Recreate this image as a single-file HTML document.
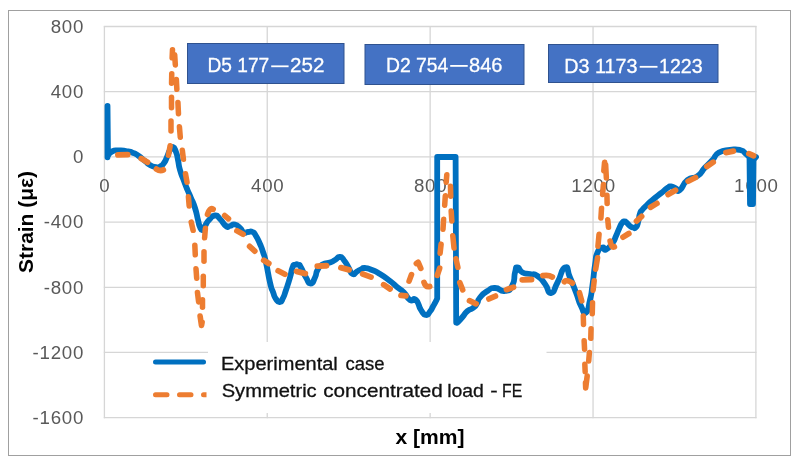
<!DOCTYPE html>
<html><head><meta charset="utf-8"><title>chart</title>
<style>
html,body{margin:0;padding:0;background:#fff;}
body{width:800px;height:466px;overflow:hidden;font-family:"Liberation Sans",sans-serif;}
svg{display:block;}
text{font-family:"Liberation Sans",sans-serif;}
.t{}
</style></head><body>
<svg width="800" height="466" viewBox="0 0 800 466">
<rect x="0" y="0" width="800" height="466" fill="#ffffff"/>
<defs><filter id="nf" x="0" y="0" width="800" height="466" filterUnits="userSpaceOnUse" color-interpolation-filters="sRGB"><feOffset dx="0" dy="0"/></filter></defs>
<g class="t" filter="url(#nf)">
<rect x="8.5" y="10.5" width="782" height="445" fill="#ffffff" stroke="#a0a0a0" stroke-width="1"/>
<g stroke="#d6d6d6" stroke-width="1.3"><line x1="104.4" y1="25.9" x2="104.4" y2="418.25"/><line x1="267.25" y1="25.9" x2="267.25" y2="418.25"/><line x1="430.15" y1="25.9" x2="430.15" y2="418.25"/><line x1="593.05" y1="25.9" x2="593.05" y2="418.25"/><line x1="755.9" y1="25.9" x2="755.9" y2="418.25"/><line x1="103.80000000000001" y1="26.5" x2="756.5" y2="26.5"/><line x1="103.80000000000001" y1="91.7" x2="756.5" y2="91.7"/><line x1="103.80000000000001" y1="156.9" x2="756.5" y2="156.9"/><line x1="103.80000000000001" y1="222.1" x2="756.5" y2="222.1"/><line x1="103.80000000000001" y1="287.3" x2="756.5" y2="287.3"/><line x1="103.80000000000001" y1="352.45" x2="756.5" y2="352.45"/><line x1="103.80000000000001" y1="417.65" x2="756.5" y2="417.65"/></g>
<rect x="208" y="342" width="338.5" height="71" fill="#ffffff"/>
<g font-size="18.7" letter-spacing="0.75" fill="#595959"><text x="84.1" y="32.80" text-anchor="end">800</text><text x="84.1" y="98.00" text-anchor="end">400</text><text x="84.1" y="163.20" text-anchor="end">0</text><text x="84.1" y="228.40" text-anchor="end">-400</text><text x="84.1" y="293.60" text-anchor="end">-800</text><text x="84.1" y="358.75" text-anchor="end">-1200</text><text x="84.1" y="423.95" text-anchor="end">-1600</text><text x="104.90" y="191.6" text-anchor="middle">0</text><text x="267.75" y="191.6" text-anchor="middle">400</text><text x="430.65" y="191.6" text-anchor="middle">800</text><text x="593.55" y="191.6" text-anchor="middle">1200</text><text x="756.40" y="191.6" text-anchor="middle">1600</text></g>
<text transform="translate(32.8,222) rotate(-90)" text-anchor="middle" font-size="19.5" font-weight="bold" fill="#000" textLength="102" lengthAdjust="spacingAndGlyphs">Strain (με)</text>
<text x="430" y="443.5" text-anchor="middle" font-size="21" font-weight="bold" fill="#000" textLength="69" lengthAdjust="spacingAndGlyphs">x [mm]</text>
<rect x="187.5" y="43.5" width="156.5" height="40" fill="#4472c4" stroke="#2f528f" stroke-width="1"/><text x="207.50" y="72.4" font-size="20" fill="#ffffff" stroke="#ffffff" stroke-width="0.3" textLength="61.75" lengthAdjust="spacingAndGlyphs">D5 177</text><line x1="271.2" y1="66.30" x2="288.6" y2="66.30" stroke="#ffffff" stroke-width="1.8"/><text x="290.10" y="72.4" font-size="20" fill="#ffffff" stroke="#ffffff" stroke-width="0.3" textLength="34.40" lengthAdjust="spacingAndGlyphs">252</text>
<rect x="365.0" y="44.5" width="159" height="40" fill="#4472c4" stroke="#2f528f" stroke-width="1"/><text x="385.90" y="72.0" font-size="20" fill="#ffffff" stroke="#ffffff" stroke-width="0.3" textLength="62.50" lengthAdjust="spacingAndGlyphs">D2 754</text><line x1="450.2" y1="65.90" x2="467.75" y2="65.90" stroke="#ffffff" stroke-width="1.8"/><text x="469.00" y="72.0" font-size="20" fill="#ffffff" stroke="#ffffff" stroke-width="0.3" textLength="33.50" lengthAdjust="spacingAndGlyphs">846</text>
<rect x="548.5" y="44.5" width="169.5" height="38" fill="#4472c4" stroke="#2f528f" stroke-width="1"/><text x="564.20" y="72.9" font-size="20" fill="#ffffff" stroke="#ffffff" stroke-width="0.3" textLength="73.30" lengthAdjust="spacingAndGlyphs">D3 1173</text><line x1="639.7" y1="66.80" x2="657.5" y2="66.80" stroke="#ffffff" stroke-width="1.8"/><text x="659.10" y="72.9" font-size="20" fill="#ffffff" stroke="#ffffff" stroke-width="0.3" textLength="43.50" lengthAdjust="spacingAndGlyphs">1223</text>
<path d="M107.5,157.3 L107.5,105.8 L108,155.5 C109.33,154.17 108.42,153.17 112,151.5 C115.58,149.83 114.08,150.67 118.75,150.5 C123.42,150.33 121.58,150.33 126,151 C130.42,151.67 128.00,151.00 132,152.5 C136.00,154.00 133.67,152.67 138,155.5 C142.33,158.33 141.00,157.83 145,161 C149.00,164.17 146.33,163.00 150,165 C153.67,167.00 152.67,166.50 156,167 C159.33,167.50 157.33,167.83 160,166.5 C162.67,165.17 161.67,166.17 164,163 C166.33,159.83 165.00,161.33 167,157 C169.00,152.67 168.00,153.33 170,150 C172.00,146.67 171.00,146.33 173,147 C175.00,147.67 174.33,147.67 176,152 C177.67,156.33 176.67,154.00 178,160 C179.33,166.00 178.00,163.00 180,170 C182.00,177.00 181.50,174.33 184,181 C186.50,187.67 185.17,184.33 187.5,190 C189.83,195.67 188.50,192.00 191,198 C193.50,204.00 192.67,200.67 195,208 C197.33,215.33 196.33,213.67 198,220 C199.67,226.33 198.50,223.67 200,227 C201.50,230.33 200.83,230.33 202.5,230 C204.17,229.67 202.83,229.33 205,226 C207.17,222.67 205.67,223.50 209,220 C212.33,216.50 211.33,215.83 215,215.5 C218.67,215.17 216.33,215.50 220,219 C223.67,222.50 222.67,223.67 226,226 C229.33,228.33 227.00,226.50 230,226 C233.00,225.50 231.67,223.83 235,224.5 C238.33,225.17 237.00,225.33 240,228 C243.00,230.67 241.33,231.17 244,232.5 C246.67,233.83 245.17,232.17 248,232 C250.83,231.83 249.83,230.67 252.5,232 C255.17,233.33 253.50,232.00 256,236 C258.50,240.00 257.67,238.67 260,244 C262.33,249.33 261.00,245.83 263,252 C265.00,258.17 263.67,252.33 266,262.5 C268.33,272.67 267.67,272.67 270,282.5 C272.33,292.33 271.00,286.50 273,292 C275.00,297.50 273.67,295.67 276,299 C278.33,302.33 277.67,302.33 280,302 C282.33,301.67 281.00,302.00 283,298 C285.00,294.00 283.67,296.83 286,290 C288.33,283.17 287.83,285.00 290,277.5 C292.17,270.00 290.83,271.73 292.5,267.5 C294.17,263.27 293.00,265.70 295,264.8 C297.00,263.90 296.50,263.90 298.5,264.8 C300.50,265.70 298.50,263.27 301,267.5 C303.50,271.73 302.80,272.17 306,277.5 C309.20,282.83 307.60,283.50 310.6,283.5 C313.60,283.50 312.70,282.00 315,277.5 C317.30,273.00 315.00,274.33 317.5,270 C320.00,265.67 318.33,267.00 322.5,264.5 C326.67,262.00 325.83,264.00 330,262.5 C334.17,261.00 331.67,261.83 335,260 C338.33,258.17 336.83,256.67 340,257 C343.17,257.33 341.67,257.50 344.5,261 C347.33,264.50 345.83,263.17 348.5,267.5 C351.17,271.83 349.67,272.67 352.5,274 C355.33,275.33 354.17,273.07 357,271.5 C359.83,269.93 358.33,270.47 361,269.3 C363.67,268.13 361.33,267.77 365,268 C368.67,268.23 367.00,268.00 372,270 C377.00,272.00 374.00,270.33 380,274 C386.00,277.67 384.33,276.67 390,281 C395.67,285.33 392.33,283.17 397,287 C401.67,290.83 399.67,288.17 404,292.5 C408.33,296.83 406.00,297.50 410,300 C414.00,302.50 412.33,296.67 416,300 C419.67,303.33 417.67,305.00 421,310 C424.33,315.00 423.00,314.50 426,315 C429.00,315.50 427.67,314.33 430,311.5 C432.33,308.67 431.17,309.67 433,306.5 C434.83,303.33 434.10,304.67 435.5,302 C436.90,299.33 436.63,299.67 437.2,298.5 L437.2,157 L455.6,157 L456.2,322.5 C456.80,322.33 455.90,323.83 458,322 C460.10,320.17 459.33,320.67 462.5,317 C465.67,313.33 464.00,314.00 467.5,311 C471.00,308.00 469.83,310.50 473,308 C476.17,305.50 474.67,307.00 477,303.5 C479.33,300.00 476.50,301.67 480,297.5 C483.50,293.33 482.50,294.17 487.5,291 C492.50,287.83 489.17,288.00 495,288 C500.83,288.00 499.17,292.00 505,291 C510.83,290.00 509.17,291.17 512.5,285 C515.83,278.83 513.33,278.33 515,272.5 C516.67,266.67 515.00,267.50 517.5,267.5 C520.00,267.50 518.33,270.33 522.5,272.5 C526.67,274.67 525.00,272.83 530,274 C535.00,275.17 532.50,272.67 537.5,276 C542.50,279.33 540.50,278.33 545,284 C549.50,289.67 546.83,293.50 551,293 C555.17,292.50 552.83,291.00 557.5,282.5 C562.17,274.00 560.83,269.17 565,267.5 C569.17,265.83 566.33,269.17 570,277.5 C573.67,285.83 572.33,283.00 576,292.5 C579.67,302.00 577.67,299.33 581,306 C584.33,312.67 583.00,314.50 586,312.5 C589.00,310.50 587.83,309.17 590,300 C592.17,290.83 590.83,296.67 592.5,285 C594.17,273.33 593.33,275.83 595,265 C596.67,254.17 595.00,258.33 597.5,252.5 C600.00,246.67 599.67,248.50 602.5,247.5 C605.33,246.50 602.67,251.00 606,249.5 C609.33,248.00 609.17,247.50 612.5,243 C615.83,238.50 613.83,240.67 616,236 C618.17,231.33 617.00,233.33 619,229 C621.00,224.67 620.17,225.50 622,223 C623.83,220.50 622.83,221.50 624.5,221.5 C626.17,221.50 625.17,221.50 627,223 C628.83,224.50 628.00,224.50 630,226 C632.00,227.50 630.92,227.17 633,227.5 C635.08,227.83 634.42,229.33 636.25,227 C638.08,224.67 637.25,225.00 638.5,220.5 C639.75,216.00 638.67,217.17 640,213.5 C641.33,209.83 640.17,212.33 642.5,209.5 C644.83,206.67 643.67,208.17 647,205 C650.33,201.83 648.83,203.17 652.5,200 C656.17,196.83 654.25,198.50 658,195.5 C661.75,192.50 660.42,193.67 663.75,191 C667.08,188.33 665.58,189.00 668,187.5 C670.42,186.00 668.33,186.17 671,186.5 C673.67,186.83 673.00,187.33 676,188.5 C679.00,189.67 676.17,192.83 680,190 C683.83,187.17 681.67,184.67 687.5,180 C693.33,175.33 691.67,180.17 697.5,176 C703.33,171.83 700.00,172.83 705,167.5 C710.00,162.17 707.83,165.00 712.5,160 C717.17,155.00 713.17,155.83 719,152.5 C724.83,149.17 723.00,150.83 730,150 C737.00,149.17 734.67,148.67 740,150 C745.33,151.33 742.83,151.50 746,154 C749.17,156.50 748.33,156.33 749.5,157.5 L750,204 L753,204 L753.5,160 L756,157" fill="none" stroke="#0070c0" stroke-width="5.8" stroke-linejoin="round" stroke-linecap="round"/>
<g fill="none" stroke="#ed7d31" stroke-linecap="round" stroke-linejoin="round"><path d="M117.90,154.91 L127.70,154.59" stroke-width="5.80"/><path d="M141.22,158.48 L147.53,162.27" stroke-width="5.76"/><path d="M156.44,169.08 Q160.13,171.54 163.30,169.84" stroke-width="5.80"/><path d="M168.47,155.27 L170.13,145.73" stroke-width="5.55"/><path d="M171.00,131.05 L171.00,121.05" stroke-width="5.50"/><path d="M171.50,107.85 L171.50,97.25" stroke-width="5.50"/><path d="M171.56,83.25 L171.74,73.75" stroke-width="5.51"/><path d="M172.12,57.85 L172.48,49.75" stroke-width="5.51"/><path d="M174.68,54.75 L175.32,64.95" stroke-width="5.52"/><path d="M176.34,79.45 L176.86,89.25" stroke-width="5.52"/><path d="M177.93,102.45 L178.47,113.65" stroke-width="5.51"/><path d="M179.42,126.75 L180.28,137.25" stroke-width="5.52"/><path d="M182.33,150.25 L183.42,159.25" stroke-width="5.54"/><path d="M185.49,173.73 L187.01,182.27" stroke-width="5.55"/><path d="M188.42,196.75 L189.18,206.00" stroke-width="5.52"/><path d="M191.23,222.11 L193.12,230.29" stroke-width="5.57"/><path d="M194.83,245.25 L195.27,254.75" stroke-width="5.51"/><path d="M196.00,268.75 L196.70,278.25" stroke-width="5.52"/><path d="M197.45,292.45 L198.65,301.95" stroke-width="5.54"/><path d="M200.11,316.08 L201.50,325.50 L202.10,322.20" stroke-width="5.63"/><path d="M202.50,307.25 L202.50,299.75" stroke-width="5.50"/><path d="M203.30,285.85 L203.30,276.35" stroke-width="5.50"/><path d="M204.00,261.25 L204.00,251.75" stroke-width="5.50"/><path d="M204.62,237.85 L205.38,228.35" stroke-width="5.52"/><path d="M207.53,214.44 Q209.69,207.17 213.08,209.22" stroke-width="5.73"/><path d="M224.69,215.60 L228.41,218.75" stroke-width="5.73"/><path d="M236.92,230.80 L243.08,234.20" stroke-width="5.76"/><path d="M249.60,246.34 L254.80,251.16" stroke-width="5.72"/><path d="M263.69,260.27 L268.81,263.48" stroke-width="5.75"/><path d="M278.16,270.73 L284.94,274.27" stroke-width="5.77"/><path d="M296.55,271.34 L305.30,273.66" stroke-width="5.79"/><path d="M317.30,266.12 L326.50,265.73" stroke-width="5.80"/><path d="M340.90,267.65 L349.10,269.85" stroke-width="5.79"/><path d="M362.72,274.09 L371.03,277.11" stroke-width="5.78"/><path d="M383.64,284.69 L390.11,289.01" stroke-width="5.75"/><path d="M400.98,295.34 L405.87,295.91" stroke-width="5.80"/><path d="M409.08,281.12 L411.52,274.53" stroke-width="5.60"/><path d="M416.39,263.52 L418.10,262.20 L420.77,268.37" stroke-width="5.72"/><path d="M424.02,282.44 Q425.64,287.53 429.69,286.50" stroke-width="5.75"/><path d="M437.17,275.46 L439.68,268.24" stroke-width="5.60"/><path d="M440.10,253.25 L441.10,244.15" stroke-width="5.53"/><path d="M442.98,229.25 L443.62,219.35" stroke-width="5.52"/><path d="M444.68,205.25 L445.32,195.75" stroke-width="5.52"/><path d="M446.21,182.25 L446.79,174.75" stroke-width="5.52"/><path d="M450.47,186.35 L450.73,196.25" stroke-width="5.51"/><path d="M451.18,211.05 L451.82,220.95" stroke-width="5.52"/><path d="M452.78,235.75 L454.02,248.05" stroke-width="5.53"/><path d="M455.92,258.71 L457.88,267.29" stroke-width="5.57"/><path d="M459.79,282.61 L462.71,289.89" stroke-width="5.61"/><path d="M469.51,300.63 L476.14,303.77" stroke-width="5.77"/><path d="M488.91,298.88 L495.44,296.12" stroke-width="5.78"/><path d="M506.48,289.65 L513.52,287.20" stroke-width="5.78"/><path d="M522.30,279.88 L531.50,279.52" stroke-width="5.80"/><path d="M542.89,275.66 Q548.41,274.48 552.28,276.99" stroke-width="5.80"/><path d="M564.42,281.69 Q566.59,279.00 572.40,283.12" stroke-width="5.80"/><path d="M579.49,292.69 L581.76,300.91" stroke-width="5.58"/><path d="M583.28,315.95 L583.52,324.45" stroke-width="5.51"/><path d="M584.14,340.75 L584.56,349.15" stroke-width="5.52"/><path d="M584.83,364.25 L585.17,371.65" stroke-width="5.51"/><path d="M585.50,382.79 L585.70,388.00 L587.16,376.07" stroke-width="5.59"/><path d="M588.72,360.95 L589.38,352.45" stroke-width="5.52"/><path d="M590.77,338.35 L591.03,328.85" stroke-width="5.51"/><path d="M592.27,313.75 L592.53,302.75" stroke-width="5.51"/><path d="M593.11,290.25 L594.19,280.75" stroke-width="5.53"/><path d="M595.65,269.26 L597.55,257.74" stroke-width="5.55"/><path d="M597.95,246.25 L599.05,234.15" stroke-width="5.53"/><path d="M600.92,218.00 L601.53,208.15" stroke-width="5.52"/><path d="M602.61,194.45 L603.39,184.55" stroke-width="5.52"/><path d="M603.83,170.85 L604.57,162.15" stroke-width="5.53"/><path d="M605.65,164.75 L606.35,177.95" stroke-width="5.52"/><path d="M606.96,195.25 L607.14,203.50" stroke-width="5.51"/><path d="M607.76,219.75 L608.49,227.25" stroke-width="5.53"/><path d="M610.12,241.09 Q611.35,248.07 614.38,246.77" stroke-width="5.69"/><path d="M623.02,237.19 L628.83,233.46" stroke-width="5.75"/><path d="M636.49,221.15 L641.66,216.35" stroke-width="5.72"/><path d="M650.56,207.26 L656.94,203.39" stroke-width="5.76"/><path d="M668.09,194.55 L675.51,190.20" stroke-width="5.76"/><path d="M688.18,181.21 L695.52,177.54" stroke-width="5.77"/><path d="M706.79,166.50 L713.21,162.20" stroke-width="5.75"/><path d="M725.95,152.56 L733.40,151.14" stroke-width="5.79"/><path d="M748.89,153.66 L753.61,155.74" stroke-width="5.77"/></g>
<line x1="155.5" y1="362" x2="203.5" y2="362" stroke="#0070c0" stroke-width="5" stroke-linecap="round"/>
<clipPath id="lc"><rect x="150" y="385" width="56.5" height="20"/></clipPath><line x1="155.5" y1="394.7" x2="230" y2="394.7" stroke="#ed7d31" stroke-width="5" stroke-linecap="round" stroke-dasharray="11.5 12.5" clip-path="url(#lc)"/>
<text x="221.00" y="370.3" font-size="18.5" fill="#111" stroke="#111" stroke-width="0.3" textLength="116.80" lengthAdjust="spacingAndGlyphs">Experimental</text><text x="345.45" y="370.3" font-size="18.5" fill="#111" stroke="#111" stroke-width="0.3" textLength="39.00" lengthAdjust="spacingAndGlyphs">case</text><text x="221.70" y="397.3" font-size="18.5" fill="#111" stroke="#111" stroke-width="0.3" textLength="95.00" lengthAdjust="spacingAndGlyphs">Symmetric</text><text x="323.20" y="397.3" font-size="18.5" fill="#111" stroke="#111" stroke-width="0.3" textLength="119.70" lengthAdjust="spacingAndGlyphs">concentrated</text><text x="447.20" y="397.3" font-size="18.5" fill="#111" stroke="#111" stroke-width="0.3" textLength="36.70" lengthAdjust="spacingAndGlyphs">load</text><text x="490.30" y="397.3" font-size="18.5" fill="#111" stroke="#111" stroke-width="0.3" textLength="7.40" lengthAdjust="spacingAndGlyphs">-</text><text x="502.10" y="397.3" font-size="18.5" fill="#111" stroke="#111" stroke-width="0.3" textLength="20.20" lengthAdjust="spacingAndGlyphs">FE</text>
</g>
</svg></body></html>
